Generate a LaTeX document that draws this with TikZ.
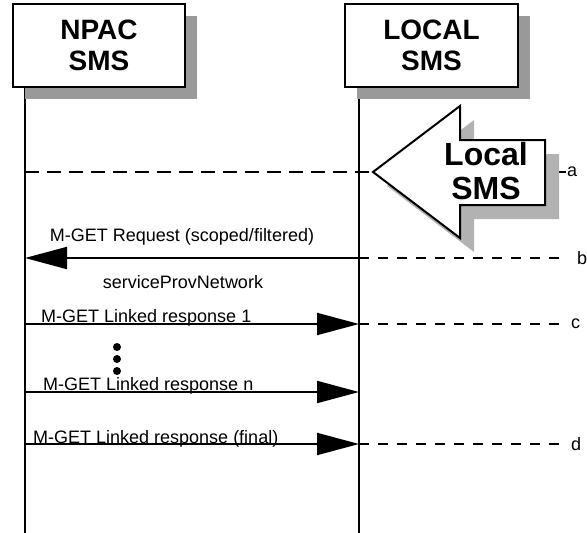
\documentclass[tikz,border=0pt]{standalone}
\usepackage{fontspec}
\setmainfont{Liberation Sans}
\usetikzlibrary{arrows.meta,shadows}

\begin{document}
\begin{tikzpicture}[
  x=1pt, y=-1pt,
  party/.style={rectangle, draw, line width=2pt, fill=white,
                minimum width=172pt, minimum height=83pt, align=center,
                inner sep=0pt, font=\fontsize{28}{31}\selectfont\bfseries,
                drop shadow={shadow xshift=12pt, shadow yshift=-12pt,
                             fill=black!40, opacity=1}},
  life/.style={line width=2pt},
  msg/.style={line width=2pt, -{Triangle[length=42pt,width=22pt]}},
  guide/.style={line width=2pt, dash pattern=on 10pt off 9pt},
  txt/.style={font=\fontsize{18}{20}\selectfont, inner sep=0pt},
  tag/.style={txt, anchor=west}
]
  \useasboundingbox (0,0) rectangle (587,533);

  % rows of the lifelines
  \foreach \row/\yy in {a/172, b/258, c/324, n/392, f/444} {
    \coordinate (np-\row) at (25,\yy);
    \coordinate (lo-\row) at (359,\yy);
  }
  \coordinate (np-top) at (25,87);
  \coordinate (np-bot) at (25,534);
  \coordinate (lo-top) at (359,87);
  \coordinate (lo-bot) at (359,534);

  \draw[life] (np-top) -- (np-bot);
  \draw[life] (lo-top) -- (lo-bot);

  \node[party] (npac) at (99,45.5) {NPAC\\SMS};
  \node[party, minimum width=173pt] (local) at (431.5,45.5) {LOCAL\\SMS};

  % local SMS arrow
  \coordinate (end-a) at (566,172);
  \draw[line width=2pt, dash pattern=on 14pt off 8pt] (np-a) -- (end-a);
  \draw[line width=2pt, fill=white, line join=miter,
        drop shadow={shadow xshift=14pt, shadow yshift=-14pt,
                     fill=black!30, opacity=1}]
    (373,172) coordinate (tip) -- (460,106) -- (460,140) -- (545,140)
    -- (545,205) -- (460,205) -- (460,238) -- cycle;
  \node[align=center, inner sep=0pt, font=\fontsize{32}{34}\selectfont\bfseries]
    (localtxt) at (486,171) {Local\\SMS};
  \node[tag] (ta) at (567,172) {a};

  % request
  \draw[msg] (lo-b) -- (np-b);
  \node[txt, anchor=base] (req) at (182,241.5) {M-GET Request (scoped/filtered)};
  \node[txt, anchor=base] (cls) at (183,288.5) {serviceProvNetwork};
  \coordinate (end-b) at (568,258);
  \draw[guide] (lo-b) -- (end-b);
  \node[tag] (tb) at (577,258) {b};

  % linked responses
  \draw[msg] (np-c) -- (lo-c);
  \node[txt, anchor=base west] (rc) at (41,322) {M-GET Linked response 1};
  \coordinate (end-c) at (566,324);
  \draw[guide] (lo-c) -- (end-c);
  \node[tag] (tc) at (571,324) {c};

  \foreach \yy in {347,359,371}
    \fill (117,\yy) circle (4);

  \draw[msg] (np-n) -- (lo-n);
  \node[txt, anchor=base west] (rn) at (43,390) {M-GET Linked response n};

  \draw[msg] (np-f) -- (lo-f);
  \node[txt, anchor=base west] (rf) at (33,443) {M-GET Linked response (final)};
  \coordinate (end-f) at (566,444);
  \draw[guide] (lo-f) -- (end-f);
  \node[tag] (td) at (571,444) {d};
\end{tikzpicture}
\end{document}
